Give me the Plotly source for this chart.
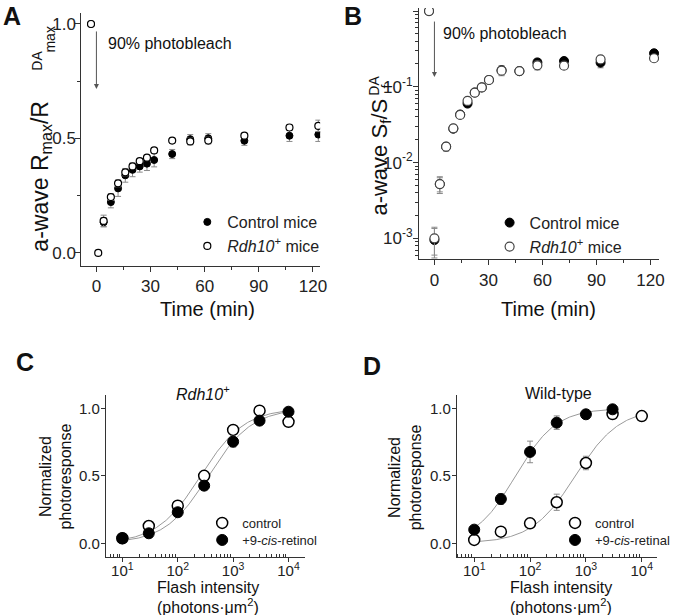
import numpy as np
import plotly.graph_objects as go

W, H = 675, 615
def px(x): return x / W
def py(y): return 1 - y / H

FONT = "Arial, Liberation Sans, sans-serif"

# ---------------- Panel A data ----------------
a_t_ctrl = [-3, 4, 8, 12, 16, 20, 24, 28, 32, 42, 52, 62, 82, 107, 123]
a_ctrl = [1.0, 0.134, 0.222, 0.282, 0.339, 0.363, 0.378, 0.39, 0.406, 0.432, 0.497, 0.501, 0.49, 0.512, 0.517]
a_ctrl_err = [0, 0.02, 0.025, 0.035, 0.03, 0.03, 0.025, 0.03, 0.03, 0.02, 0.02, 0.02, 0.02, 0.025, 0.03]
a_t_rdh = [-3, 1, 4, 8, 12, 16, 20, 24, 28, 32, 42, 52, 62, 82, 107, 123]
a_rdh = [1.0, 0.0, 0.14, 0.244, 0.304, 0.352, 0.378, 0.401, 0.416, 0.448, 0.491, 0.487, 0.491, 0.512, 0.548, 0.555]
a_rdh_err = [0, 0, 0.025, 0.015, 0.015, 0.015, 0.012, 0.01, 0.01, 0.01, 0.01, 0.015, 0.015, 0.01, 0.012, 0.025]

# ---------------- Panel B data ----------------
b_t = [-3, 0, 3, 6.5, 10.5, 14.3, 18.4, 22.4, 26.3, 30.3, 37.3, 47.2, 57.2, 72, 92.3, 122]
b_ctrl = [1.0, 0.00095, 0.0052, 0.0162, 0.028, 0.043, 0.060, 0.084, 0.098, 0.123, 0.165, 0.161, 0.21, 0.219, 0.208, 0.277]
b_ctrl_err = [0, 0.0004, 0.0011, 0.002, 0.003, 0.004, 0.006, 0.006, 0.008, 0.01, 0.025, 0.015, 0.025, 0.015, 0.03, 0.02]
b_rdh = [1.0, 0.001, 0.0052, 0.0162, 0.0283, 0.0425, 0.065, 0.0837, 0.098, 0.123, 0.163, 0.161, 0.192, 0.19, 0.23, 0.238]
b_rdh_err = [0, 0.0004, 0.0013, 0.002, 0.003, 0.004, 0.005, 0.006, 0.007, 0.01, 0.02, 0.015, 0.025, 0.01, 0.02, 0.015]

# ---------------- Panel C data ----------------
flash = [10, 30, 100, 300, 1000, 3000, 10000]
c_ctrl = [0.037, 0.128, 0.279, 0.50, 0.84, 0.983, 0.90]
c_ctrl_err = [0.01, 0.01, 0.02, 0.02, 0.03, 0.01, 0.01]
c_ret = [0.037, 0.074, 0.23, 0.427, 0.753, 0.909, 0.975]
c_ret_err = [0.01, 0.01, 0.02, 0.02, 0.04, 0.01, 0.01]
c_ctrl_fit = dict(i50=260, n=1.1, imax=10000)
c_ret_fit = dict(i50=360, n=1.1, imax=10000)

# ---------------- Panel D data ----------------
d_ctrl = [0.025, 0.086, 0.148, 0.304, 0.595, 0.958, 0.943]
d_ctrl_err = [0.01, 0.01, 0.01, 0.06, 0.05, 0.01, 0.01]
flash_d_ret = [10, 30, 100, 300, 1000, 3000]
d_ret = [0.101, 0.328, 0.677, 0.894, 0.956, 0.993]
d_ret_err = [0.01, 0.04, 0.08, 0.05, 0.02, 0.02]
d_ctrl_fit = dict(i50=650, n=1.1, imax=10000)
d_ret_fit = dict(i50=55, n=1.2, imax=3000)

def hill(p):
    x = np.logspace(1, np.log10(p["imax"]), 200)
    return x, (x / p["i50"]) ** p["n"] / (1 + (x / p["i50"]) ** p["n"])

fig = go.Figure()

ERR = dict(type="data", color="#8a8a8a", thickness=1, width=3)

def err(arr):
    return dict(ERR, array=arr, visible=True)

# Panel A
fig.add_trace(go.Scatter(x=a_t_ctrl, y=a_ctrl, mode="markers", name="Control mice",
    error_y=err(a_ctrl_err), marker=dict(symbol="circle", size=7, color="black", line=dict(color="black", width=1)),
    xaxis="x", yaxis="y", legend="legend"))
fig.add_trace(go.Scatter(x=a_t_rdh, y=a_rdh, mode="markers", name="<i>Rdh10</i><sup>+</sup> mice",
    error_y=err(a_rdh_err), marker=dict(symbol="circle", size=7, color="white", line=dict(color="black", width=1.2)),
    xaxis="x", yaxis="y", legend="legend2"))

# Panel B
fig.add_trace(go.Scatter(x=b_t, y=b_ctrl, mode="markers", name="Control mice",
    error_y=err(b_ctrl_err), marker=dict(symbol="circle", size=9, color="black", line=dict(color="black", width=1)),
    xaxis="x2", yaxis="y2", legend="legend3"))
fig.add_trace(go.Scatter(x=b_t, y=b_rdh, mode="markers", name="<i>Rdh10</i><sup>+</sup> mice",
    error_y=err(b_rdh_err), marker=dict(symbol="circle", size=9, color="white", line=dict(color="#444", width=1.2)),
    xaxis="x2", yaxis="y2", legend="legend4"))

# Panel C
for p in (c_ctrl_fit, c_ret_fit):
    fx, fy = hill(p)
    fig.add_trace(go.Scatter(x=fx, y=fy, mode="lines", line=dict(color="#9a9a9a", width=1),
        showlegend=False, hoverinfo="skip", xaxis="x3", yaxis="y3"))
fig.add_trace(go.Scatter(x=flash, y=c_ctrl, mode="markers", name="control",
    error_y=err(c_ctrl_err), marker=dict(symbol="circle", size=11, color="white", line=dict(color="black", width=1.5)),
    xaxis="x3", yaxis="y3", legend="legend5"))
fig.add_trace(go.Scatter(x=flash, y=c_ret, mode="markers", name="+9-<i>cis</i>-retinol",
    error_y=err(c_ret_err), marker=dict(symbol="circle", size=11, color="black", line=dict(color="black", width=1)),
    xaxis="x3", yaxis="y3", legend="legend6"))

# Panel D
for p in (d_ctrl_fit, d_ret_fit):
    fx, fy = hill(p)
    fig.add_trace(go.Scatter(x=fx, y=fy, mode="lines", line=dict(color="#9a9a9a", width=1),
        showlegend=False, hoverinfo="skip", xaxis="x4", yaxis="y4"))
fig.add_trace(go.Scatter(x=flash, y=d_ctrl, mode="markers", name="control",
    error_y=err(d_ctrl_err), marker=dict(symbol="circle", size=11, color="white", line=dict(color="black", width=1.5)),
    xaxis="x4", yaxis="y4", legend="legend7"))
fig.add_trace(go.Scatter(x=flash_d_ret, y=d_ret, mode="markers", name="+9-<i>cis</i>-retinal",
    error_y=err(d_ret_err), marker=dict(symbol="circle", size=11, color="black", line=dict(color="black", width=1)),
    xaxis="x4", yaxis="y4", legend="legend8"))

AX = dict(showline=True, linecolor="#333", linewidth=1, ticks="outside", ticklen=5, tickcolor="#333",
          showgrid=False, zeroline=False, mirror=False)
big_tick = dict(family=FONT, size=17, color="#222")
small_tick = dict(family=FONT, size=15, color="#222")

log_minor_c = [m * 10 ** e for e in range(0, 5) for m in range(2, 10) if 5 <= m * 10 ** e <= 19000]
log_minor_b = [m * 10 ** e for e in range(-4, 0) for m in range(2, 10) if m * 10 ** e >= 0.00053]

fig.update_layout(
    width=W, height=H, margin=dict(l=0, r=0, t=0, b=0),
    paper_bgcolor="white", plot_bgcolor="white", font=dict(family=FONT, color="#222"),
    xaxis=dict(AX, domain=[px(82), px(323)], range=[-8.4, 124], anchor="y",
               tickvals=[0, 30, 60, 90, 120], tickfont=big_tick,
               minor=dict(tickvals=[15, 45, 75, 105], ticks="outside", ticklen=3, tickcolor="#333")),
    yaxis=dict(AX, domain=[py(266), py(13)], range=[-0.057, 1.048], anchor="x", ticklabelstandoff=-4,
               tickvals=[0, 0.5, 1.0], ticktext=["0.0", "0.5", "1.0"], tickfont=big_tick,
               minor=dict(tickvals=[0.25, 0.75], ticks="outside", ticklen=3, tickcolor="#333")),
    xaxis2=dict(AX, domain=[px(422.7), px(665)], range=[-8.6, 124.8], anchor="y2",
                tickvals=[0, 30, 60, 90, 120], tickfont=big_tick,
                minor=dict(tickvals=[15, 45, 75, 105], ticks="outside", ticklen=3, tickcolor="#333")),
    yaxis2=dict(AX, type="log", domain=[py(259.3), py(8)], range=[-3.277, 0.04], anchor="x2", ticklabelstandoff=-3,
                tickvals=[0.001, 0.01, 0.1, 1], ticktext=["10<sup>-3</sup>", "10<sup>-2</sup>", "10<sup>-1</sup>", "10<sup>0</sup>"],
                tickfont=big_tick,
                minor=dict(tickvals=log_minor_b, ticks="outside", ticklen=3, tickcolor="#333")),
    xaxis3=dict(AX, type="log", domain=[px(106.7), px(307.3)], range=[0.70, 4.29], anchor="y3",
                ticklen=4, ticklabelstandoff=-4,
                tickvals=[10, 100, 1000, 10000], ticktext=["10<sup>1</sup>", "10<sup>2</sup>", "10<sup>3</sup>", "10<sup>4</sup>"],
                tickfont=small_tick,
                minor=dict(tickvals=log_minor_c, ticks="inside", ticklen=3, tickcolor="#333")),
    yaxis3=dict(AX, domain=[py(557.3), py(395)], range=[-0.104, 1.099], anchor="x3", ticklen=4, ticklabelstandoff=-2,
                tickvals=[0, 0.5, 1.0], ticktext=["0.0", "0.5", "1.0"], tickfont=small_tick),
    xaxis4=dict(AX, type="log", domain=[px(461), px(663.3)], range=[0.69, 4.28], anchor="y4",
                ticklen=4, ticklabelstandoff=-4,
                tickvals=[10, 100, 1000, 10000], ticktext=["10<sup>1</sup>", "10<sup>2</sup>", "10<sup>3</sup>", "10<sup>4</sup>"],
                tickfont=small_tick,
                minor=dict(tickvals=log_minor_c, ticks="inside", ticklen=3, tickcolor="#333")),
    yaxis4=dict(AX, domain=[py(557.3), py(395)], range=[-0.104, 1.099], anchor="x4", ticklen=4, ticklabelstandoff=-2,
                tickvals=[0, 0.5, 1.0], ticktext=["0.0", "0.5", "1.0"], tickfont=small_tick),
)

LEG = dict(bgcolor="rgba(0,0,0,0)", borderwidth=0, xanchor="left", yanchor="top", itemsizing="trace")
def leg(marker_x, row_y, size):
    off = 17 if size >= 16 else 14
    return dict(LEG, x=px(marker_x - 19), y=py(row_y - off), font=dict(family=FONT, size=size, color="#222"))

fig.update_layout(
    legend=leg(208, 222, 16), legend2=leg(208, 246, 16),
    legend3=leg(513, 222.7, 16), legend4=leg(513, 246.7, 16),
    legend5=leg(223, 522, 13), legend6=leg(223, 539, 13),
    legend7=leg(579, 522, 13), legend8=leg(579, 539, 13),
)

ann = []
def txt(x, y, s, size, xanchor="center", yanchor="middle", angle=0, bold=False):
    ann.append(dict(x=px(x), y=py(y), xref="paper", yref="paper", text=("<b>%s</b>" % s if bold else s),
                    showarrow=False, xanchor=xanchor, yanchor=yanchor, textangle=angle,
                    font=dict(family=FONT, size=size, color="#111")))

# panel letters
txt(12, 16, "A", 25, bold=True)
txt(356, 16, "B", 25, bold=True)
txt(25, 362, "C", 25, bold=True)
txt(375, 366, "D", 25, bold=True)

# A/B axis titles
txt(209, 309, "Time (min)", 20)
txt(553, 309, "Time (min)", 20)
txt(42, 176, "a-wave R<sub>max</sub>/R", 23, angle=-90)
txt(37, 61, "DA", 14, angle=-90)
txt(50, 40, "max", 14, angle=-90)
txt(384, 157, "a-wave S<sub>f</sub>/S", 22, angle=-90)
txt(377, 86, "DA", 14, angle=-90)
txt(390, 87, "f", 14, angle=-90)

# photobleach text
txt(107, 44, "90% photobleach", 16, xanchor="left")
txt(445, 33, "90% photobleach", 16, xanchor="left")

# C/D titles
txt(205, 393, "<i>Rdh10</i><sup>+</sup>", 16)
txt(564, 393, "Wild-type", 16)
txt(210, 587, "Flash intensity", 16)
txt(210, 606, "(photons·μm<sup>2</sup>)", 16)
txt(566, 587, "Flash intensity", 16)
txt(566, 606, "(photons·μm<sup>2</sup>)", 16)
txt(56, 477, "Normalized<br>photoresponse", 16, angle=-90)
txt(409, 477, "Normalized<br>photoresponse", 16, angle=-90)

# arrows
ann.append(dict(x=0, y=0.716, ax=0, ay=0.974, xref="x", yref="y", axref="x", ayref="y", text="",
                showarrow=True, arrowhead=2, arrowsize=1, arrowwidth=1, arrowcolor="#555", standoff=0, startstandoff=0))
ann.append(dict(x=0, y=-0.87, ax=0, ay=-0.119, xref="x2", yref="y2", axref="x2", ayref="y2", text="",
                showarrow=True, arrowhead=2, arrowsize=1, arrowwidth=1, arrowcolor="#555", standoff=0, startstandoff=0))

fig.update_layout(annotations=ann)
fig.write_html("out.html", config={"displayModeBar": False},
               post_script="document.body.style.margin='0';document.body.style.overflow='hidden';")
